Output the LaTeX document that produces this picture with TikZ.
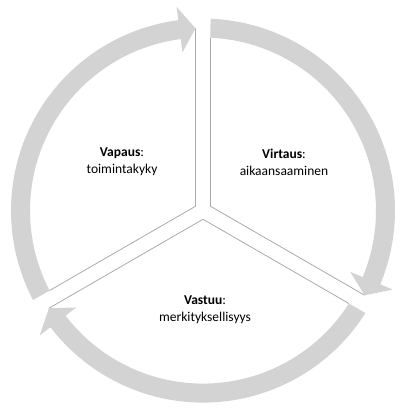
\documentclass[tikz,border=0pt]{standalone}
\usepackage{fontspec}
\setmainfont{Carlito}
\definecolor{bandgray}{RGB}{211,211,211}
\definecolor{linegray}{RGB}{170,170,170}
\begin{document}
\begin{tikzpicture}[x=1pt,y=1pt,
    band/.style={fill=bandgray},
    edge/.style={draw=linegray, line width=0.8pt},
    label/.style={align=center, font=\fontsize{13.5}{17}\selectfont}]

    \useasboundingbox (0,0) rectangle (407,417);
    \coordinate (o) at (203,206.4);

    \foreach \r [count=\i] in {0,120,240} {
      \begin{scope}[shift={(o)}, rotate=\r]
        \coordinate (v\i) at (7.5,4.33);
        \coordinate (s\i) at (87.52:173);
        \coordinate (t\i) at (-27.64:182.5);
        \draw[edge] (s\i) -- (v\i) -- (t\i);
        \fill[band] (87.76:192) arc[start angle=87.76, end angle=-22.6, radius=192]
          -- (-22.6:205.5) -- (t\i) -- (-22.6:159.5) -- (-22.6:173)
          arc[start angle=-22.6, end angle=87.52, radius=173] -- cycle;
      \end{scope}
    }

    \node[label] (virtaus) at (284,255) {\textbf{Virtaus}:\\aikaansaaminen};
    \node[label] (vastuu) at (205,107) {\textbf{Vastuu}:\\merkityksellisyys};
    \node[label] (vapaus) at (122,255) {\textbf{Vapaus}:\\toimintakyky};
  \end{tikzpicture}
\end{document}
